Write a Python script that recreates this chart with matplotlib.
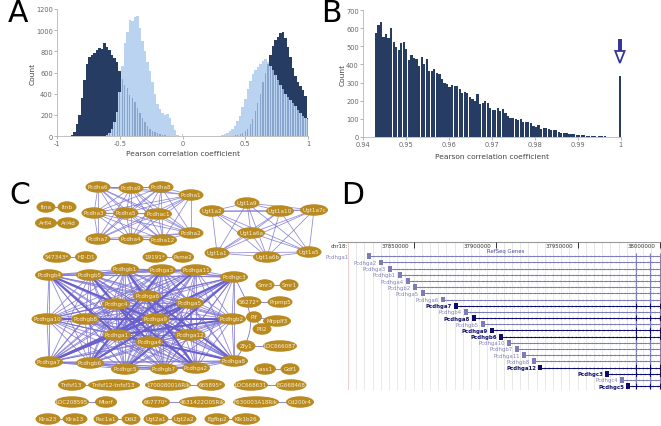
import itertools
import numpy as np
import matplotlib
matplotlib.use("Agg")
import matplotlib.pyplot as plt
from matplotlib.collections import LineCollection
from matplotlib.patches import Ellipse, PathPatch, Polygon, Rectangle
from matplotlib.path import Path

W, H = 661, 427
DARK = "#263c63"
LIGHT = "#b9d3f1"
MID = "#8aa5cb"
GREY = "#666666"

# ---------- Panel A ----------
a_neg_start = -0.92
a_neg_dark = [0, 3, 8, 35, 110, 200, 360, 530, 680, 745, 770, 785, 810, 835, 825, 875, 840, 810,
              770, 740, 700, 610, 540, 480, 450, 390, 360, 320, 260, 220, 170, 130, 90, 65, 50,
              35, 25, 18, 10, 6, 3, 1, 0, 0, 0, 0]
a_neg_light = [0, 0, 0, 0, 0, 0, 0, 0, 0, 0, 0, 0, 0, 0, 0, 0, 8, 30, 70, 130, 230, 420, 660, 880,
               980, 1100, 1090, 1120, 1130, 1020, 900, 800, 700, 610, 510, 400, 300, 255, 215,
               200, 205, 170, 105, 55, 12, 2]
a_pos_start = 0.24
a_pos_dark = [0, 0, 0, 0, 0, 0, 1, 2, 4, 7, 12, 20, 30, 45, 70, 115, 165, 240, 310, 400, 510, 600,
              680, 770, 850, 905, 940, 975, 985, 930, 840, 750, 640, 570, 510, 470, 430, 380, 170]
a_pos_light = [0, 1, 2, 4, 10, 20, 30, 45, 65, 95, 140, 190, 270, 350, 440, 520, 590, 620, 650, 680,
               710, 730, 695, 660, 625, 580, 530, 480, 440, 400, 370, 340, 310, 280, 245, 215, 185,
               170, 160]
a_end_spike_x = [0.0, 1.0]
a_end_spike_y = [15, 270]
a_xticks = [-1, -0.5, 0, 0.5, 1]
a_xticklabels = ["-1", "-0.5", "0", "0.5", "1"]
a_yticks = [0, 200, 400, 600, 800, 1000, 1200]

# ---------- Panel B ----------
b_values = [572, 620, 632, 550, 568, 545, 600, 522, 497, 478, 517, 525, 485, 425, 452, 437, 432,
            390, 440, 405, 432, 365, 365, 375, 352, 350, 320, 295, 290, 278, 285, 280, 280, 265,
            245, 250, 240, 222, 212, 197, 235, 183, 185, 198, 190, 160, 150, 150, 160, 143, 157,
            130, 115, 103, 107, 100, 95, 100, 82, 85, 85, 78, 60, 55, 68, 42, 50, 50, 42, 37, 40,
            40, 25, 22, 22, 22, 15, 15, 15, 12, 10, 10, 12, 6, 6, 6, 5, 1, 3, 3, 3, 2, 1, 0, 0, 0, 335]
b_xticks = [0.94, 0.95, 0.96, 0.97, 0.98, 0.99, 1]
b_xticklabels = ["0.94", "0.95", "0.96", "0.97", "0.98", "0.99", "1"]
b_yticks = [0, 100, 200, 300, 400, 500, 600, 700]

# ---------- Panel C ----------
alpha_nodes = {"Pcdha6": (98, 188), "Pcdha9": (131, 189), "Pcdha8": (161, 188), "Pcdha1": (191, 196),
               "Pcdha3": (94, 214), "Pcdha5": (126, 214), "Pcdhac1": (158, 215), "Pcdha7": (98, 240),
               "Pcdha4": (131, 240), "Pcdha12": (163, 241), "Pcdha2": (191, 234)}
ugt_nodes = {"Ugt1a2": (212, 212), "Ugt1a9": (247, 204), "Ugt1a10": (280, 212), "Ugt1a7c": (314, 211),
             "Ugt1a6a": (251, 234), "Ugt1a1": (217, 254), "Ugt1a6b": (267, 258), "Ugt1a5": (309, 253)}
gamma_nodes = {"Pcdhgb4": (49, 276), "Pcdhgb5": (90, 276), "Pcdhgb1": (125, 270), "Pcdhga3": (162, 271),
               "Pcdhga11": (196, 271), "Pcdhgc3": (234, 278), "Pcdhga6": (147, 297), "Pcdhgc4": (116, 305),
               "Pcdhga5": (190, 304), "Pcdhga10": (47, 320), "Pcdhgb8": (85, 320), "Pcdhga9": (156, 320),
               "Pcdhgb2": (232, 320), "Pcdhga1": (117, 336), "Pcdhga12": (190, 336), "Pcdhga4": (149, 343),
               "Pcdhga7": (49, 363), "Pcdhgb6": (90, 364), "Pcdhgc5": (125, 370), "Pcdhgb7": (164, 370),
               "Pcdhga2": (196, 369), "Pcdhga8": (234, 362)}
other_nodes = {"Itna": (46, 208), "Itnb": (67, 208), "Arfl4": (46, 224), "Arl4d": (68, 224),
               "547343*": (57, 258), "H2-D1": (86, 258), "19191*": (155, 258), "Psme2": (183, 258),
               "Smr3": (265, 286), "Smr1": (289, 286), "56272*": (249, 303), "Prpmp5": (280, 303),
               "Pif": (254, 318), "Mrpplf3": (277, 322), "Pfl2": (262, 330), "Zfy1": (246, 347),
               "LOC666087": (280, 347), "Lass1": (265, 370), "Gdf1": (290, 370),
               "Tnfsf13": (72, 386), "Tnfsf12-tnfsf13": (114, 386), "1700080016Rik": (168, 386),
               "665895*": (211, 386), "LOC668631": (251, 386), "EG668468": (291, 386),
               "LOC208595": (72, 403), "Mterf": (106, 403), "667770*": (156, 403),
               "4631422O05Rik": (202, 403), "F630003A18Rik": (256, 403), "Cd200r4": (300, 403),
               "Klra23": (48, 420), "Klra13": (75, 420), "Rsc1a1": (106, 420), "Ddi2": (131, 420),
               "Ugt2a1": (156, 420), "Ugt2a2": (184, 420), "Egfbp2": (217, 420), "Klk1b26": (246, 420)}
pair_edges = [("Itna", "Itnb"), ("Arfl4", "Arl4d"), ("547343*", "H2-D1"), ("19191*", "Psme2"),
              ("Smr3", "Smr1"), ("56272*", "Prpmp5"), ("Pif", "Mrpplf3"), ("Pif", "Pfl2"),
              ("Mrpplf3", "Pfl2"), ("Zfy1", "LOC666087"), ("Lass1", "Gdf1"),
              ("Tnfsf13", "Tnfsf12-tnfsf13"), ("1700080016Rik", "665895*"), ("LOC668631", "EG668468"),
              ("LOC208595", "Mterf"), ("667770*", "4631422O05Rik"), ("F630003A18Rik", "Cd200r4"),
              ("Klra23", "Klra13"), ("Rsc1a1", "Ddi2"), ("Ugt2a1", "Ugt2a2"), ("Egfbp2", "Klk1b26")]
thick_edges = [("Pcdhgb4", "Pcdhga12"), ("Pcdhgb4", "Pcdhga1"), ("Pcdhga7", "Pcdhgc3"), ("Pcdhga7", "Pcdhga5"),
               ("Pcdhga10", "Pcdhga9"), ("Pcdhgb8", "Pcdhgb2"), ("Pcdhgb1", "Pcdhga2"), ("Pcdhga3", "Pcdhgb6"),
               ("Pcdhga11", "Pcdhga1"), ("Pcdhgc3", "Pcdhgc5"), ("Pcdhga6", "Pcdhga8"), ("Pcdhgc4", "Pcdhga2"),
               ("Pcdhgb5", "Pcdhga4"), ("Pcdhga5", "Pcdhgb6"), ("Pcdhgb2", "Pcdhga1"), ("Pcdhga8", "Pcdhga1")]

# ---------- Panel D ----------
d_genes = ["Pcdhga1", "Pcdhga2", "Pcdhga3", "Pcdhgb1", "Pcdhga4", "Pcdhgb2", "Pcdhga5", "Pcdhga6",
           "Pcdhga7", "Pcdhgb4", "Pcdhga8", "Pcdhgb5", "Pcdhga9", "Pcdhgb6", "Pcdhga10", "Pcdhgb7",
           "Pcdhga11", "Pcdhgb8", "Pcdhga12", "Pcdhgc3", "Pcdhgc4", "Pcdhgc5"]
d_start_kb = [37822.6, 37829.9, 37835.4, 37841.5, 37846.3, 37850.6, 37855.5, 37867.7, 37875.6, 37881.7,
              37886.6, 37892.1, 37897.6, 37903.1, 37907.9, 37912.8, 37917.1, 37923.2, 37926.8,
              37967.7, 37976.8, 37980.5]
d_highlighted = ["Pcdhga7", "Pcdhga8", "Pcdhga9", "Pcdhgb6", "Pcdhga12", "Pcdhgc3", "Pcdhgc5"]
d_ticks_kb = [37850, 37900, 37950, 38000]
d_exons_kb = [37985.4, 37994.0, 38000.0]


def px_axes(fig, left, right, top, bottom):
    return fig.add_axes([left / W, 1 - bottom / H, (right - left) / W, (bottom - top) / H])


def style_hist(ax, xpad):
    for s in ("top", "right"):
        ax.spines[s].set_visible(False)
    for s in ("left", "bottom"):
        ax.spines[s].set_color("#aaaaaa")
        ax.spines[s].set_linewidth(0.5)
    ax.tick_params(length=2, width=0.5, color="#999999", labelsize=4.8, labelcolor=GREY, pad=1)
    ax.set_xlabel("Pearson correlation coefficient", fontsize=5.4, color="#444444", labelpad=xpad)
    ax.set_ylabel("Count", fontsize=5.4, color="#444444", labelpad=0.5)
    ax.patch.set_alpha(0)


fig = plt.figure(figsize=(W / 100, H / 100), dpi=100, facecolor="white")

# A
axA = px_axes(fig, 57, 308, 10, 137)
for start, dark, light in ((a_neg_start, a_neg_dark, a_neg_light), (a_pos_start, a_pos_dark, a_pos_light)):
    x = start + 0.02 * np.arange(len(dark))
    dark = np.array(dark, float)
    light = np.array(light, float)
    both = np.minimum(dark, light)
    axA.bar(x, light, width=0.02, color=LIGHT, lw=0)
    axA.bar(x, dark, width=0.02, color=DARK, lw=0)
    axA.bar(x, both, width=0.02, color=LIGHT, lw=0)
    axA.bar(x, both, width=0.011, color=MID, lw=0)
axA.bar(a_end_spike_x, a_end_spike_y, width=0.006, color=LIGHT, lw=0)
axA.set_xlim(-1, 1)
axA.set_ylim(0, 1200)
axA.set_xticks(a_xticks, a_xticklabels)
axA.set_yticks(a_yticks)
style_hist(axA, 2.5)

# B
axB = px_axes(fig, 363, 620.5, 11, 138)
b_x = np.linspace(0.9430, 0.99985, len(b_values))
axB.bar(b_x, b_values, width=(b_x[1] - b_x[0]) * 0.86, color=DARK, lw=0)
axB.set_xlim(0.94, 1)
axB.set_ylim(0, 700)
axB.set_xticks(b_xticks, b_xticklabels)
axB.set_yticks(b_yticks)
style_hist(axB, 4)

# Overlay in pixels for network and annotations
ov = fig.add_axes([0, 0, 1, 1], zorder=5)
ov.set_xlim(0, W)
ov.set_ylim(H, 0)
ov.axis("off")
ov.patch.set_alpha(0)

# arrow in B
ARROW = "#35359a"
ov.add_patch(Rectangle((618.2, 40), 3.4, 13, color=ARROW, lw=0))
ov.add_patch(Polygon([(615.2, 52), (624.6, 52), (619.9, 64)], closed=True, fc="white", ec=ARROW, lw=1.3))

# C edges
EDGE = "#7b72d2"
nodes = {**alpha_nodes, **ugt_nodes, **gamma_nodes, **other_nodes}
for group, lw in ((alpha_nodes, 0.55), (ugt_nodes, 0.55), (gamma_nodes, 0.6)):
    segs = [(group[a], group[b]) for a, b in itertools.combinations(group, 2)]
    ov.add_collection(LineCollection(segs, colors=EDGE, linewidths=lw, alpha=0.85, zorder=1))
ov.add_collection(LineCollection([(nodes[a], nodes[b]) for a, b in thick_edges],
                                 colors="#6a60cc", linewidths=1.5, zorder=1))
ov.add_collection(LineCollection([(nodes[a], nodes[b]) for a, b in pair_edges],
                                 colors=EDGE, linewidths=0.6, zorder=1))
curve = Path([(234, 278), (256, 315), (256, 335), (234, 362)],
             [Path.MOVETO, Path.CURVE4, Path.CURVE4, Path.CURVE4])
ov.add_patch(PathPatch(curve, fc="none", ec=EDGE, lw=0.6, zorder=1))
for name, (x, y) in nodes.items():
    ov.add_patch(Ellipse((x, y), 3.0 * len(name) + 7, 11.5, fc="#b98a1f", ec="none", zorder=2))
    ov.text(x, y, name, fontsize=4.1, color="#f7f0da", ha="center", va="center", zorder=3)

# D
px_to_kb = 50.0 / 82.0
axD = px_axes(fig, 338, 661, 243, 391)
axD.set_xlim(37850 + (338 - 414) * px_to_kb, 37850 + (661 - 414) * px_to_kb)
row_step = 6.18
axD.set_ylim((391 - 257.3) / row_step, (243 - 257.3) / row_step)
axD.axis("off")
axD.patch.set_alpha(0)
top = axD.get_ylim()[1]
bottom = axD.get_ylim()[0]
grid_kb = np.arange(37850 + (348 - 414) * px_to_kb, 38000.5, 5.0)
axD.vlines(grid_kb, top, bottom, color="#e4e4e4", lw=0.6, zorder=1)
axD.vlines(grid_kb[0], top, bottom, color="#f2cccc", lw=0.7, zorder=1)
axD.plot(axD.get_xlim(), [top, top], color="#999999", lw=0.8, clip_on=False, zorder=2)
for t in d_ticks_kb:
    axD.vlines(t, top - 0.0, top + 0.9, color="#333333", lw=0.7, clip_on=False)
    axD.text(t - 3.0, top + 0.55, str(t * 1000), fontsize=3.9, color="#333333", ha="right", va="center")
axD.text(37803.66 + 6.0, top + 0.55, "chr18:", fontsize=3.9, color="#333333", ha="right", va="center")
axD.text(37906, top + 1.45, "RefSeq Genes", fontsize=3.9, color="#4a4a98", ha="center", va="center")
for i, (g, s) in enumerate(zip(d_genes, d_start_kb)):
    hi = g in d_highlighted
    c = "#0b0b6e" if hi else "#7c7cb8"
    axD.plot([s, axD.get_xlim()[1]], [i, i], color=c, lw=0.7, zorder=3)
    arrows = np.arange(s + 3, axD.get_xlim()[1], 2.5)
    axD.plot(arrows, [i] * len(arrows), ls="none", marker="4", ms=1.6, mew=0.35, color=c, zorder=3)
    exons = [e for e in d_exons_kb if e > s]
    axD.vlines(exons, i - 0.5, i + 0.5, color=c, lw=0.8, zorder=4)
    axD.add_patch(Rectangle((s - 1.4, i - 0.47), 2.8, 0.94, color=c, lw=0, zorder=5))
    label_x = 37810.0 if i == 0 else s - 2.4
    axD.text(label_x, i, g, fontsize=3.9, color="#10106a" if hi else "#8484bb",
             fontweight="bold" if hi else "normal", ha="right", va="center", zorder=6, clip_on=False)

# Letters
for letter, x, y in (("A", 8, 14), ("B", 321, 14), ("C", 9, 195), ("D", 341, 195)):
    fig.text(x / W, 1 - y / H, letter, fontsize=21.5, color="black", ha="left", va="center", zorder=10)

fig.savefig("out.png", dpi=100)
